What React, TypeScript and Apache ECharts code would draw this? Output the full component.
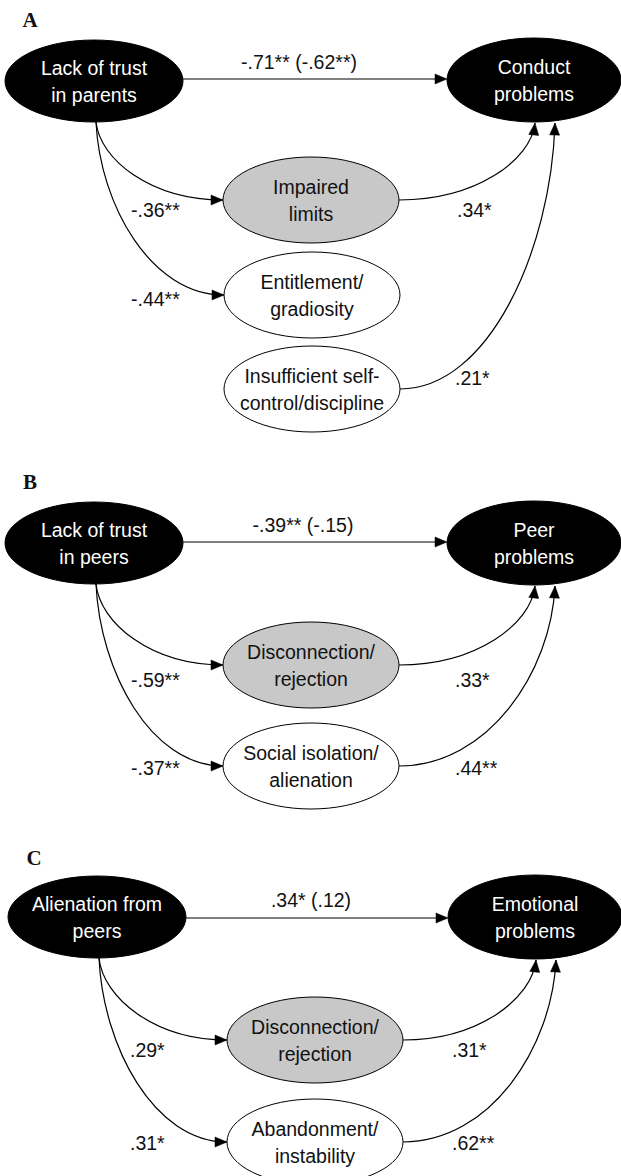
import React, { useEffect, useRef } from 'react';
import * as echarts from 'echarts';

// ---- data (texts / coefficients) ----
const panelLetters = ['A', 'B', 'C'];
const predictors = ['Lack of trust\nin parents', 'Lack of trust\nin peers', 'Alienation from\npeers'];
const outcomes = ['Conduct\nproblems', 'Peer\nproblems', 'Emotional\nproblems'];
const mediatorsA = ['Impaired\nlimits', 'Entitlement/\ngradiosity', 'Insufficient self-\ncontrol/discipline'];
const mediatorsB = ['Disconnection/\nrejection', 'Social isolation/\nalienation'];
const mediatorsC = ['Disconnection/\nrejection', 'Abandonment/\ninstability'];
const directEffects = ['-.71** (-.62**)', '-.39** (-.15)', '.34* (.12)'];
const aPathsA = ['-.36**', '-.44**', ''];
const bPathsA = ['.34*', '', '.21*'];
const aPathsB = ['-.59**', '-.37**'];
const bPathsB = ['.33*', '.44**'];
const aPathsC = ['.29*', '.31*'];
const bPathsC = ['.31*', '.62**'];

const mediators = [mediatorsA, mediatorsB, mediatorsC];
const aPaths = [aPathsA, aPathsB, aPathsC];
const bPaths = [bPathsA, bPathsB, bPathsC];

// ---- layout (positions, sizes, styles) ----
const W = 621;
const H = 1176;
const panelLayout = [
  {
    letter: [30, 20], pred: [94, 81], out: [534, 80], arrowY: 79, directLabel: [299, 62],
    meds: [[311, 200], [312, 295], [312, 389]],
    aLabels: [[131, 210], [131, 299], null],
    bLabels: [[457, 210], null, [455, 378]],
    grayMed: 0,
  },
  {
    letter: [30, 482], pred: [94, 543], out: [534, 543], arrowY: 542, directLabel: [303, 525],
    meds: [[311, 665], [311, 766]],
    aLabels: [[131, 680], [131, 768]],
    bLabels: [[455, 680], [455, 768]],
    grayMed: 0,
  },
  {
    letter: [34, 858], pred: [97, 917], out: [535, 917], arrowY: 918, directLabel: [311, 900],
    meds: [[315, 1040], [315, 1142]],
    aLabels: [[130, 1050], [130, 1143]],
    bLabels: [[452, 1050], [452, 1143]],
    grayMed: 0,
  },
];
const predR = [89, 41];
const outR = [87, 42];
const medR = [88, 43];
const FONT = '19.5px "Liberation Sans", Arial, sans-serif';
const LINE_H = 27;

type Item = any;

function buildItems(): Item[] {
  const edges: Item[] = [];
  const nodes: Item[] = [];
  const labels: Item[] = [];
  panelLayout.forEach((L, p) => {
    labels.push({ kind: 'text', at: L.letter, text: panelLetters[p], font: 'bold 21px "Liberation Serif", "Times New Roman", serif', align: 'center', color: '#111' });
    nodes.push({ kind: 'node', at: L.pred, r: predR, text: predictors[p], fill: '#000', color: '#fff' });
    nodes.push({ kind: 'node', at: L.out, r: outR, text: outcomes[p], fill: '#000', color: '#fff' });
    // direct effect
    edges.push({ kind: 'line', at: [L.pred[0] + predR[0], L.arrowY], to: [L.out[0] - outR[0], L.arrowY] });
    labels.push({ kind: 'text', at: L.directLabel, text: directEffects[p], align: 'center', color: '#111' });
    let bCount = 0;
    mediators[p].forEach((m, i) => {
      const c = L.meds[i];
      nodes.push({ kind: 'node', at: c, r: medR, text: m, fill: i === L.grayMed ? '#c8c8c8' : '#fff', color: '#111' });
      if (aPaths[p][i]) {
        edges.push({ kind: 'curveDown', at: [L.pred[0] + 2, L.pred[1] + predR[1]], to: [c[0] - medR[0], c[1]] });
        labels.push({ kind: 'text', at: L.aLabels[i], text: aPaths[p][i], align: 'left', color: '#111' });
      }
      if (bPaths[p][i]) {
        const off = bCount === 0 ? 1 : 21;
        bCount++;
        edges.push({ kind: 'curveUp', at: [c[0] + medR[0], c[1]], to: [L.out[0] + off, L.out[1] + outR[1] + 1] });
        labels.push({ kind: 'text', at: L.bLabels[i], text: bPaths[p][i], align: 'left', color: '#111' });
      }
    });
  });
  return [...edges, ...nodes, ...labels];
}

const items = buildItems();

function arrowHead(tx: number, ty: number, fx: number, fy: number) {
  const dx = tx - fx;
  const dy = ty - fy;
  const len = Math.sqrt(dx * dx + dy * dy) || 1;
  const ux = dx / len;
  const uy = dy / len;
  const Lh = 12;
  const Wh = 5;
  const bx = tx - ux * Lh;
  const by = ty - uy * Lh;
  return {
    type: 'polygon',
    shape: { points: [[tx, ty], [bx - uy * Wh, by + ux * Wh], [bx + uy * Wh, by - ux * Wh]] },
    style: { fill: '#000', stroke: '#000', lineWidth: 0.5 },
  };
}

export default function App() {
  const ref = useRef<HTMLDivElement>(null);
  useEffect(() => {
    if (!ref.current) return;
    const chart = echarts.init(ref.current, undefined, { renderer: 'svg' });
    const renderItem = (params: any, api: any) => {
      const it = items[params.dataIndex];
      const p = api.coord([it.at[0], it.at[1]]);
      const unit = api.size([1, 1]);
      if (it.kind === 'text') {
        return {
          type: 'text',
          x: p[0],
          y: p[1],
          style: {
            text: it.text,
            fill: it.color,
            font: it.font || FONT,
            align: it.align,
            verticalAlign: 'middle',
            lineHeight: LINE_H,
          },
        };
      }
      if (it.kind === 'node') {
        return {
          type: 'group',
          children: [
            {
              type: 'ellipse',
              shape: { cx: p[0], cy: p[1], rx: it.r[0] * unit[0], ry: it.r[1] * unit[1] },
              style: { fill: it.fill, stroke: '#000', lineWidth: 1 },
            },
            {
              type: 'text',
              x: p[0],
              y: p[1],
              style: { text: it.text, fill: it.color, font: FONT, align: 'center', verticalAlign: 'middle', lineHeight: LINE_H },
            },
          ],
        };
      }
      const q = api.coord([it.to[0], it.to[1]]);
      if (it.kind === 'line') {
        return {
          type: 'group',
          children: [
            { type: 'line', shape: { x1: p[0], y1: p[1], x2: q[0] - 6, y2: q[1] }, style: { stroke: '#000', lineWidth: 1.2 } },
            arrowHead(q[0], q[1], p[0], p[1]),
          ],
        };
      }
      let c1: number[];
      let c2: number[];
      if (it.kind === 'curveDown') {
        // vertical start (predictor bottom), horizontal end (mediator left)
        c1 = [p[0] + 4, p[1] + 0.48 * (q[1] - p[1])];
        c2 = [p[0] + 0.43 * (q[0] - p[0]), q[1]];
      } else {
        // horizontal start (mediator right), vertical end (outcome bottom)
        c1 = [q[0] - 0.43 * (q[0] - p[0]), p[1]];
        c2 = [q[0] - 4, q[1] + 0.48 * (p[1] - q[1])];
      }
      return {
        type: 'group',
        children: [
          {
            type: 'bezierCurve',
            shape: { x1: p[0], y1: p[1], x2: q[0], y2: q[1], cpx1: c1[0], cpy1: c1[1], cpx2: c2[0], cpy2: c2[1] },
            style: { stroke: '#000', fill: 'none', lineWidth: 1.2 },
          },
          arrowHead(q[0], q[1], c2[0], c2[1]),
        ],
      };
    };
    chart.setOption({
      animation: false,
      backgroundColor: '#fff',
      grid: { left: 0, right: 0, top: 0, bottom: 0, containLabel: false },
      xAxis: { type: 'value', min: 0, max: W, show: false },
      yAxis: { type: 'value', min: 0, max: H, inverse: true, show: false },
      series: [
        {
          type: 'custom',
          coordinateSystem: 'cartesian2d',
          silent: true,
          clip: false,
          renderItem,
          data: items.map((it, i) => [it.at[0], it.at[1], i]),
        },
      ],
    });
    return () => chart.dispose();
  }, []);
  return <div ref={ref} style={{ position: 'absolute', left: 0, top: 0, width: W, height: H }} />;
}
